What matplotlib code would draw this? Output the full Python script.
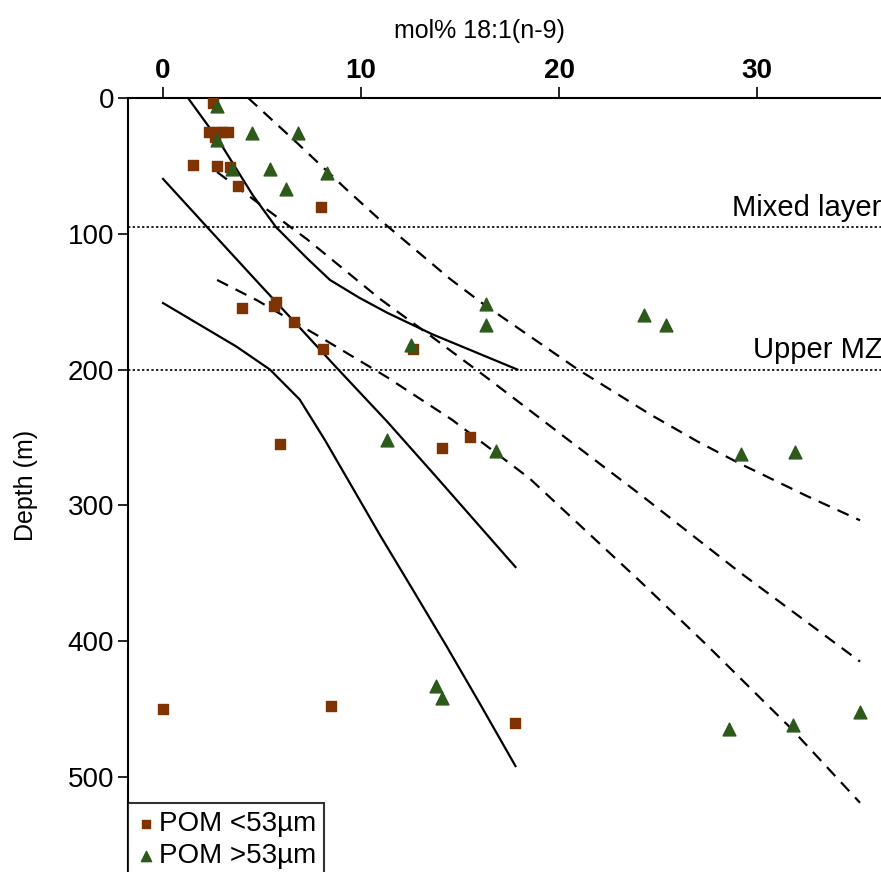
import matplotlib
matplotlib.use("Agg")
import matplotlib.pyplot as plt

plt.rcParams['font.family'] = ['Liberation Sans', 'DejaVu Sans']

# POM <53um (squares): mol% and depth (m)
small_x = [2.5, 2.3, 2.7, 3.0, 3.3, 2.6, 1.5, 2.7, 3.4, 3.8, 8.0,
           4.0, 5.7, 5.6, 6.6, 8.1, 12.6, 5.9, 14.1, 15.5, 0.0, 8.5, 17.8]
small_d = [4, 25, 25, 25, 25, 29, 49, 50, 51, 65, 80,
           155, 150, 153, 165, 185, 185, 255, 258, 250, 450, 448, 460]

# POM >53um (triangles)
large_x = [2.7, 4.5, 6.8, 2.7, 3.5, 5.4, 8.3, 6.2, 12.5, 11.3, 16.8, 16.3, 16.3,
           24.3, 25.4, 29.2, 31.9, 13.8, 14.1, 28.6, 31.8, 35.2]
large_d = [6, 26, 26, 31, 52, 52, 55, 67, 182, 252, 260, 152, 167,
           160, 167, 262, 261, 433, 442, 465, 462, 452]

# fitted curves (solid)
solid_a_x = [1.26, 2.73, 4.55, 5.7, 7.27, 8.43, 9.9, 11.3, 13.6, 17.9]
solid_a_d = [0, 29.5, 72, 95, 118, 134, 147, 158, 174, 200]
solid_b_x = [0, 2.22, 4.55, 6.77, 8.79, 11.3, 13.8, 17.8]
solid_b_d = [59.6, 95, 132, 167, 199, 238, 279, 345.4]
solid_c_x = [0, 3.7, 5.4, 6.9, 8.18, 10.96, 12.65, 14.33, 16.0, 17.8]
solid_c_d = [151, 183, 200, 222, 252, 322, 363, 404, 446, 492]

# dashed curves
dash_a_x = [4.3, 6.77, 9.29, 10.96, 14.5, 16.2, 20.96, 24.6, 27.0, 29.1, 30.8, 32.5, 35.2]
dash_a_d = [0, 33.1, 67.7, 89.8, 133.3, 152, 200, 233, 253, 269, 281, 293, 311]
dash_b_x = [2.73, 5.05, 7.27, 10.96, 13.5, 16.36, 20.4, 24.1, 29.1, 35.2]
dash_b_d = [54.5, 80, 104, 148, 175, 206, 251, 292, 349, 415]
dash_c_x = [2.73, 4.75, 7.93, 11.3, 14.6, 18.5, 24.1, 27.4, 31.7, 35.2]
dash_c_d = [134, 149, 176, 205.5, 237, 280, 356, 402, 464, 519]

layers = [95, 200]
layer_names = ['Mixed layer', 'Upper MZ']

fig = plt.figure(figsize=(8.81, 8.72), dpi=100)
ax = fig.add_axes([128 / 881, 0, 1 - 128 / 881, 774 / 872])

dash_style = (0, (5.5, 3.8))
for xs, ds in [(solid_a_x, solid_a_d), (solid_b_x, solid_b_d), (solid_c_x, solid_c_d)]:
    ax.plot(xs, ds, color='black', lw=1.6, zorder=2, solid_joinstyle='round')
for xs, ds in [(dash_a_x, dash_a_d), (dash_b_x, dash_b_d), (dash_c_x, dash_c_d)]:
    ax.plot(xs, ds, color='black', lw=1.6, ls=dash_style, zorder=2)

# layer boundaries, labels pushed to the right edge
for d, name, xt in zip(layers, layer_names, [28.75, 29.8]):
    ax.axhline(d, color='#222222', lw=1.4, ls=(0, (1.2, 1.2)), zorder=1)
    ax.text(xt, d - 4, name, fontsize=21, ha='left', va='bottom')

ax.scatter(small_x, small_d, marker='s', s=62, color='#7F3300', label='POM <53µm', zorder=3)
ax.scatter(large_x, large_d, marker='^', s=85, color='#2D5A1B', label='POM >53µm', zorder=3)

ax.set_xlim(-1.77, 36.26)
ax.set_ylim(570, 0)
ax.xaxis.tick_top()
ax.xaxis.set_label_position('top')
ax.set_xticks([0, 10, 20, 30])
ax.set_yticks([0, 100, 200, 300, 400, 500])
ax.tick_params(axis='x', labelsize=20, length=8, width=1.2, pad=2)
ax.tick_params(axis='y', labelsize=20, length=7, width=1.2, pad=3)
for lab in ax.get_xticklabels():
    lab.set_fontweight('bold')
ax.set_xlabel('mol% 18:1(n-9)', fontsize=18)
ax.xaxis.set_label_coords(0.467, 1.078)
ax.set_ylabel('Depth (m)', fontsize=18)
ax.yaxis.set_label_coords(-0.12, 0.5)

ax.spines['right'].set_visible(False)
ax.spines['bottom'].set_visible(False)
ax.spines['top'].set_linewidth(1.5)
ax.spines['left'].set_linewidth(1.5)

leg = ax.legend(loc='upper left', bbox_to_anchor=(0, 69 / 774), borderaxespad=0,
                fontsize=20, frameon=True, fancybox=False, edgecolor='black',
                handletextpad=0.1, borderpad=0.3, labelspacing=0.2,
                handlelength=0.7, markerscale=0.8)
leg.get_frame().set_linewidth(1.5)

plt.savefig('out.png', dpi=100)
